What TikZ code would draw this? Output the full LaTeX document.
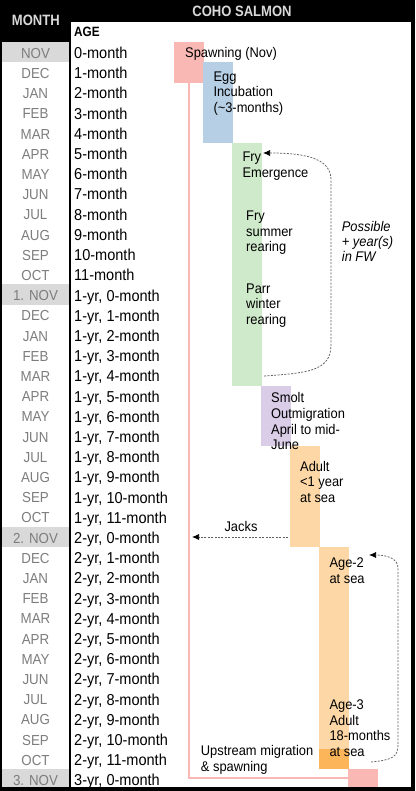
\documentclass[tikz,border=0pt]{standalone}
\usepackage{fontspec}
\setmainfont{Liberation Sans}
\newfontfamily\bodyfont[FakeStretch=0.92]{Liberation Sans}
\newfontfamily\headfont[FakeStretch=0.87]{Liberation Sans}
\usetikzlibrary{arrows.meta}
\definecolor{spawnpink}{RGB}{249,184,179}
\definecolor{eggblue}{RGB}{183,207,229}
\definecolor{frygreen}{RGB}{207,234,202}
\definecolor{smoltpurple}{RGB}{217,205,232}
\definecolor{adultorange}{RGB}{253,216,166}
\definecolor{ripeorange}{RGB}{253,181,90}
\definecolor{headgray}{RGB}{217,217,217}
\definecolor{monthgray}{RGB}{125,125,125}
\definecolor{novgray}{RGB}{217,217,217}
\definecolor{loopgray}{RGB}{95,95,95}
\begin{document}
\begin{tikzpicture}[x=1pt,y=-1pt,
  stage/.style={inner sep=0,minimum width=29.5pt,anchor=north west},
  lbl/.style={anchor=base west,inner sep=0,align=left,font=\bodyfont\fontsize{14}{15.7}\selectfont},
  monthlbl/.style={anchor=base,inner sep=0,text=monthgray,font=\bodyfont\fontsize{14.5}{17}\selectfont},
  agelbl/.style={anchor=base west,inner sep=0,font=\bodyfont\fontsize{15.8}{18}\selectfont},
  headlbl/.style={anchor=base,inner sep=0,font=\headfont\bfseries\fontsize{15}{18}\selectfont},
  loop/.style={draw=loopgray,line width=0.75pt,dash pattern=on 2pt off 1.4pt,
    -{Latex[color=black,length=7pt,width=6pt]}}]
\useasboundingbox (0,0) rectangle (415,791);
\fill[black] (0,0) rectangle (415,791);
\fill[white] (2,42) rectangle (69,787);
\fill[white] (71,22) rectangle (411,787);
\foreach \i in {0,12,24} \fill[novgray] (2,42+20.2*\i) rectangle (69,42+20.2*\i+20.2);
\fill[novgray] (2,769.2) rectangle (69,787);
\node[headlbl,text=headgray] (monthhead) at (35.8,26) {MONTH};
\node[headlbl,text=headgray] (cohohead) at (242,16.7) {COHO SALMON};
\node[headlbl,anchor=base west,font=\headfont\bfseries\fontsize{13.5}{16}\selectfont] (agehead) at (74,36.7) {AGE};
\foreach \mon [count=\i from 0] in {NOV,DEC,JAN,FEB,MAR,APR,MAY,JUN,JUL,AUG,SEP,OCT,
    1. NOV,DEC,JAN,FEB,MAR,APR,MAY,JUN,JUL,AUG,SEP,OCT,
    2. NOV,DEC,JAN,FEB,MAR,APR,MAY,JUN,JUL,AUG,SEP,OCT,3. NOV} {
  \pgfmathtruncatemacro{\yr}{\i/12}
  \pgfmathtruncatemacro{\mo}{mod(\i,12)}
  \node[monthlbl] (mon\i) at (35.5,42+20.2*\i+16.3) {\mon};
  \ifnum\yr=0
    \node[agelbl] (age\i) at (74,42+20.2*\i+16.6) {\mo-month};
  \else
    \node[agelbl] (age\i) at (74,42+20.2*\i+16.6) {\yr-yr, \mo-month};
  \fi
}
\node[stage,fill=spawnpink,minimum height=40.4pt] (spawn) at (174,42) {};
\node[stage,fill=spawnpink,minimum height=17.8pt] (return) at (348,769.2) {};
\draw[spawnpink,line width=2.3pt] (spawn.south) |- (return.west);
\node[stage,fill=eggblue,minimum height=80.8pt] (egg) at (203,62.2) {};
\node[stage,fill=frygreen,minimum height=242.4pt] (fry) at (232,143) {};
\node[stage,fill=smoltpurple,minimum height=60.6pt] (smolt) at (261,385.4) {};
\node[stage,fill=adultorange,minimum height=101pt] (adult) at (290,446) {};
\node[stage,fill=adultorange,minimum height=222.2pt] (age2) at (319,547) {};
\node[stage,fill=ripeorange,minimum height=20.2pt] (ripe) at (319,749) {};
% base of a wrapped label = baseline of its last line
\node[lbl] (spawnlbl) at (185,57.8) {Spawning (Nov)};
\node[lbl] (egglbl) at (213.3,112.6) {Egg\\Incubation\\(\textasciitilde3-months)};
\node[lbl] (emerglbl) at (242.3,177.5) {Fry\\Emergence};
\node[lbl] (summerlbl) at (246,251.9) {Fry\\summer\\rearing};
\node[lbl] (winterlbl) at (246,324.6) {Parr\\winter\\rearing};
\node[lbl,font=\bodyfont\itshape\fontsize{14}{15.3}\selectfont] (fwlbl) at (341.7,261.8) {Possible\\+ year(s)\\in FW};
\node[lbl] (smoltlbl) at (271,449.9) {Smolt\\Outmigration\\April to mid-\\June};
\node[lbl] (adultlbl) at (300,502.6) {Adult\\<1 year\\at sea};
\node[lbl,anchor=base] (jackslbl) at (241,531.5) {Jacks};
\node[lbl] (age2lbl) at (329.3,583.5) {Age-2\\at sea};
\node[lbl] (age3lbl) at (329.3,756.6) {Age-3\\Adult\\18-months\\at sea};
\node[lbl,font=\bodyfont\fontsize{14}{16}\selectfont] (upstreamlbl) at (200.7,771.2) {Upstream migration\\\& spawning};
\coordinate (fwfrom) at (264,376);
\coordinate (fwto) at (263,153);
\coordinate (seafrom) at (371,762);
\coordinate (seato) at (369,555);
\coordinate (jackfrom) at (288,537);
\coordinate (jackto) at (192,537);
\draw[loop] (fwfrom) .. controls (305,373) and (331,372) .. (331,345) -- (331,180) .. controls (331,160) and (310,153) .. (fwto);
\draw[loop] (seafrom) .. controls (392,760) and (398,757) .. (398,745) -- (398,568) .. controls (398,559) and (388,555) .. (seato);
\draw[loop] (jackfrom) -- (jackto);
\end{tikzpicture}
\end{document}
